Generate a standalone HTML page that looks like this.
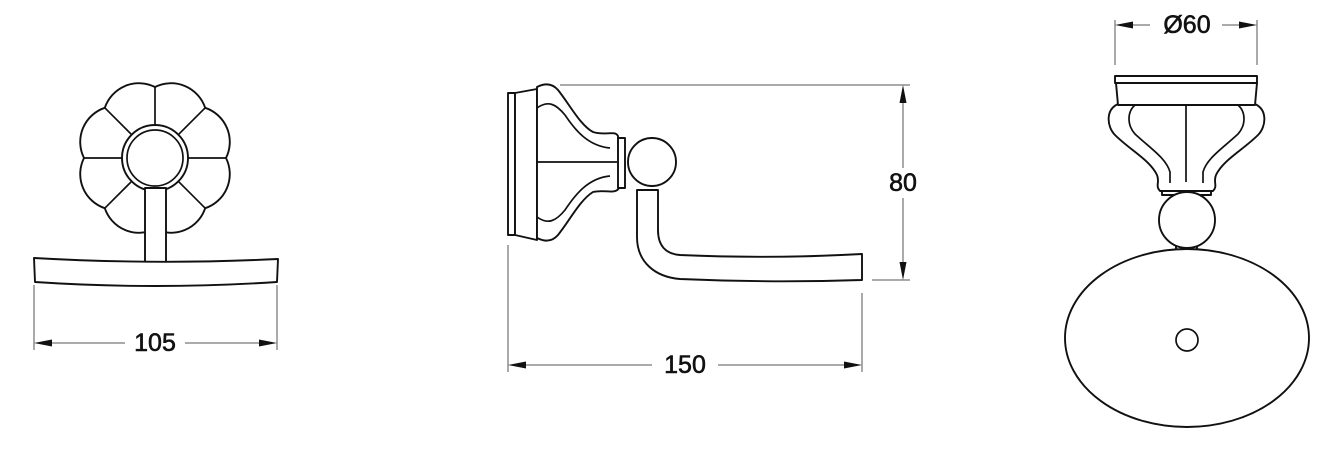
<!DOCTYPE html>
<html><head><meta charset="utf-8"><style>
html,body{margin:0;padding:0;background:#fff;}
svg{display:block;}
text{font-family:"Liberation Sans",sans-serif;font-size:25px;fill:#111;stroke:#111;stroke-width:0.6;text-anchor:middle;dominant-baseline:central;}
.o{fill:#fff;stroke:#111;stroke-width:1.9;stroke-linejoin:round;}
.l{fill:none;stroke:#111;stroke-width:1.7;}
.d{fill:none;stroke:#555;stroke-width:1;}
.a{fill:#111;}
</style></head><body>
<svg width="1342" height="464" viewBox="0 0 1342 464" xmlns="http://www.w3.org/2000/svg">
<!-- LEFT VIEW -->
<path class="o" d="M155,87 A36,36 0 0 1 205.2,107.8 A36,36 0 0 1 226,158 A36,36 0 0 1 205.2,208.2 A36,36 0 0 1 155,229 A36,36 0 0 1 104.8,208.2 A36,36 0 0 1 84,158 A36,36 0 0 1 104.8,107.8 A36,36 0 0 1 155,87 Z"/>
<g class="l">
<line x1="155" y1="87" x2="155" y2="125"/>
<line x1="205.2" y1="107.8" x2="178.3" y2="134.7"/>
<line x1="226" y1="158" x2="188" y2="158"/>
<line x1="205.2" y1="208.2" x2="178.3" y2="181.3"/>
<line x1="104.8" y1="208.2" x2="131.7" y2="181.3"/>
<line x1="84" y1="158" x2="122" y2="158"/>
<line x1="104.8" y1="107.8" x2="131.7" y2="134.7"/>
</g>
<circle class="o" cx="155" cy="158" r="33"/>
<circle class="l" cx="155" cy="158" r="28"/>
<rect class="o" x="145" y="188" width="21" height="74"/>
<path class="o" d="M34,258 Q155,265 278,259 L277,282 Q155,290 35,282 Z"/>
<line class="d" x1="34" y1="285" x2="34" y2="350"/>
<line class="d" x1="277" y1="285" x2="277" y2="350"/>
<line class="d" x1="36" y1="343" x2="125" y2="343"/>
<line class="d" x1="185" y1="343" x2="275" y2="343"/>
<polygon class="a" points="34,343 52,339.5 52,346.5"/>
<polygon class="a" points="277,343 259,339.5 259,346.5"/>
<text x="155" y="343">105</text>

<!-- MIDDLE VIEW -->
<line class="d" x1="560" y1="85" x2="910" y2="85"/>
<rect class="o" x="508" y="93" width="7" height="142"/>
<path class="o" d="M515,93 L537,89 L537,240 L515,235 Z"/>
<path class="o" d="M537,87 C545,83 552,83 558,90 C570,105 580,125 593,132 C605,136 615,130 618,136 L619,188 C615,195 605,189 593,192 C580,200 570,220 558,235 C552,242 545,242 537,238 Z"/>
<path class="l" d="M537,108 C548,100 556,104 565,115 C575,130 588,146 610,148"/>
<path class="l" d="M537,217 C548,225 556,221 565,210 C575,195 588,178 610,176"/>
<line class="l" x1="537" y1="162" x2="617" y2="162"/>
<rect class="o" x="618" y="138" width="7" height="50"/>
<path class="o" d="M637,190 L637,237 C637,262 655,277 680,279 Q770,283 862,280 L862,254 Q770,259 680,255 C666,254 658,246 658,230 L658,190 Z"/>
<circle class="o" cx="652" cy="162" r="24"/>
<line class="d" x1="903" y1="87" x2="903" y2="168"/>
<line class="d" x1="903" y1="198" x2="903" y2="278"/>
<polygon class="a" points="903,85 899.5,103 906.5,103"/>
<polygon class="a" points="903,280 899.5,262 906.5,262"/>
<line class="d" x1="872" y1="280" x2="910" y2="280"/>
<text x="903" y="183">80</text>
<line class="d" x1="508" y1="245" x2="508" y2="372"/>
<line class="d" x1="862" y1="293" x2="862" y2="372"/>
<line class="d" x1="510" y1="365" x2="652" y2="365"/>
<line class="d" x1="718" y1="365" x2="860" y2="365"/>
<polygon class="a" points="508,365 526,361.5 526,368.5"/>
<polygon class="a" points="862,365 844,361.5 844,368.5"/>
<text x="685" y="365">150</text>

<!-- RIGHT VIEW -->
<line class="d" x1="1115" y1="20" x2="1115" y2="65"/>
<line class="d" x1="1257" y1="20" x2="1257" y2="65"/>
<line class="d" x1="1117" y1="25" x2="1150" y2="25"/>
<line class="d" x1="1222" y1="25" x2="1255" y2="25"/>
<polygon class="a" points="1115,25 1133,21.5 1133,28.5"/>
<polygon class="a" points="1257,25 1239,21.5 1239,28.5"/>
<text x="1187" y="25">Ø60</text>
<path class="o" d="M1118,104 C1105,110 1107,127 1115,135 C1130,150 1150,160 1157,175 C1160,182 1155,186 1160,191 L1213,191 C1218,186 1213,182 1216,175 C1223,160 1243,150 1258,135 C1266,127 1268,110 1255,104 Z"/>
<path class="l" d="M1135,105 C1127,112 1127,125 1135,134 C1150,148 1166,158 1170,172 L1170,183"/>
<path class="l" d="M1238,105 C1246,112 1246,125 1238,134 C1223,148 1207,158 1203,172 L1203,183"/>
<line class="l" x1="1186" y1="105" x2="1186" y2="182"/>
<path class="o" d="M1116,83 L1257,83 L1255,105 L1118,105 Z"/>
<rect class="o" x="1115" y="76" width="142" height="7"/>
<rect class="o" x="1162" y="191" width="49" height="4"/>
<rect class="o" x="1176" y="240" width="21" height="12"/>
<circle class="o" cx="1187" cy="220" r="28"/>
<ellipse class="o" cx="1187" cy="338" rx="122" ry="89"/>
<circle class="l" cx="1187" cy="340" r="11"/>
</svg>
</body></html>
